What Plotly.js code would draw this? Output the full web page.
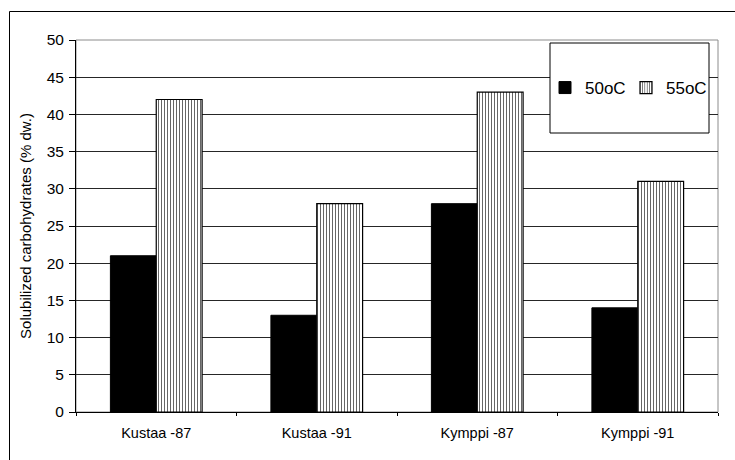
<!DOCTYPE html>
<html>
<head>
<meta charset="utf-8">
<script src="https://cdn.plot.ly/plotly-3.0.1.min.js"></script>
<style>
  html, body { margin: 0; padding: 0; background: #fff; }
  #chart { width: 735px; height: 460px; }
</style>
</head>
<body>
<div id="chart"></div>
<script>
// Samples and solubilized carbohydrate yields at two temperatures
const categories = ['Kustaa -87', 'Kustaa -91', 'Kymppi -87', 'Kymppi -91'];
const seriesNames = ['50oC', '55oC'];
const values50 = [21, 13, 28, 14];
const values55 = [42, 28, 43, 31];
const yTicks = [0, 5, 10, 15, 20, 25, 30, 35, 40, 45, 50];

const M = { l: 76, r: 17, t: 40, b: 48, autoexpand: false };
const W = 735, H = 460;
const pw = W - M.l - M.r, ph = H - M.t - M.b;
// pixel -> paper helpers for frame decorations
const px = v => (v - M.l) / pw;
const py = v => (H - M.b - v) / ph;

const traces = [
  {
    type: 'bar', name: seriesNames[0], x: categories, y: values50,
    marker: { color: '#000000', line: { color: '#000000', width: 1 } },
    hoverinfo: 'x+y'
  },
  {
    type: 'bar', name: seriesNames[1], x: categories, y: values55,
    marker: {
      color: '#ffffff',
      line: { color: '#000000', width: 1.2 },
      pattern: { shape: '|', size: 3, solidity: 0.35, fgcolor: '#666666', bgcolor: '#ffffff' }
    },
    hoverinfo: 'x+y'
  }
];

const font = 'Arial, "Liberation Sans", sans-serif';

const layout = {
  width: W, height: H,
  margin: M,
  paper_bgcolor: '#ffffff',
  plot_bgcolor: '#ffffff',
  font: { family: font, color: '#000000' },
  barmode: 'group',
  bargap: 0.4286,
  bargroupgap: 0,
  showlegend: true,
  legend: {
    orientation: 'h',
    x: px(545), xanchor: 'left',
    y: py(88), yanchor: 'middle',
    bgcolor: 'rgba(0,0,0,0)',
    borderwidth: 0,
    font: { size: 17, family: font },
    entrywidth: 36, entrywidthmode: 'pixels',
    traceorder: 'normal'
  },
  xaxis: {
    type: 'category',
    range: [-0.5, 3.5],
    showline: true, linecolor: '#000000', linewidth: 1,
    ticks: 'outside', tickson: 'boundaries', ticklen: 3, tickcolor: '#000000',
    tickfont: { size: 14.5, family: font },
    ticklabelstandoff: 8,
    showgrid: false, zeroline: false,
    fixedrange: true
  },
  yaxis: {
    range: [0, 50],
    tickvals: yTicks,
    ticktext: yTicks.map(String),
    showline: true, linecolor: '#000000', linewidth: 1,
    ticks: 'outside', ticklen: 6, tickcolor: '#000000',
    tickfont: { size: 15.5, family: font },
    ticklabelstandoff: 2,
    showgrid: true, gridcolor: '#262626', gridwidth: 1,
    zeroline: false,
    title: { text: 'Solubilized carbohydrates (% dw.)', font: { size: 15, family: font }, standoff: 11 },
    fixedrange: true
  },
  // overlay axes give the short inner half of the crossing tick marks
  yaxis2: {
    overlaying: 'y', side: 'left', range: [0, 50], dtick: 5, tick0: 0,
    ticks: 'inside', ticklen: 3, tickcolor: '#000000',
    showticklabels: false, showgrid: false, zeroline: false, showline: false,
    fixedrange: true
  },
  xaxis2: {
    overlaying: 'x', side: 'bottom', range: [-0.5, 3.5], tick0: 0.5, dtick: 1,
    ticks: 'inside', ticklen: 4, tickcolor: '#000000',
    showticklabels: false, showgrid: false, zeroline: false, showline: false,
    fixedrange: true
  },
  shapes: [
    // plot area frame (top and right edges show in grey)
    { type: 'rect', xref: 'paper', yref: 'paper', x0: 0, x1: 1, y0: 0, y1: 1,
      line: { color: '#8c8c8c', width: 1 }, fillcolor: 'rgba(0,0,0,0)', layer: 'below' },
    // legend box
    { type: 'rect', xref: 'paper', yref: 'paper', x0: px(550), x1: px(709), y0: py(133), y1: py(43),
      line: { color: '#000000', width: 1 }, fillcolor: '#ffffff', layer: 'above' },
    // chart area border
    { type: 'rect', xref: 'paper', yref: 'paper', x0: px(9.5), x1: px(745), y0: py(470), y1: py(11.5),
      line: { color: '#000000', width: 1 }, fillcolor: 'rgba(0,0,0,0)', layer: 'above' }
  ]
};

Plotly.newPlot('chart', traces, layout, { displayModeBar: false, staticPlot: true });
</script>
</body>
</html>
